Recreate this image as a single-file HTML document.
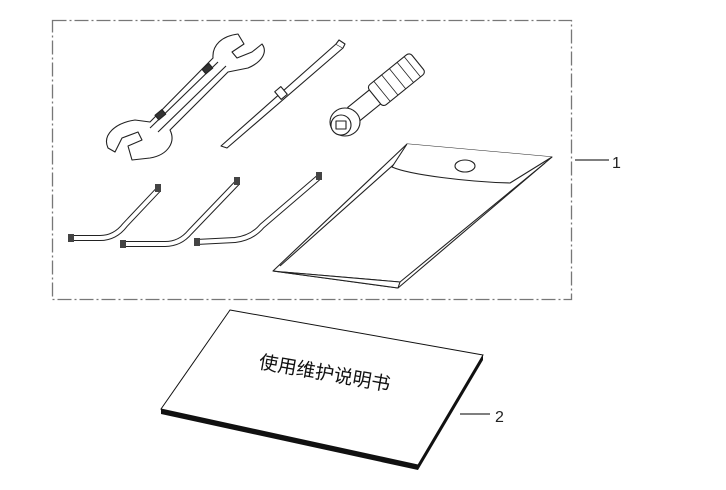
<!DOCTYPE html>
<html><head><meta charset="utf-8"><style>
html,body{margin:0;padding:0;background:#fff;width:726px;height:490px;overflow:hidden}
svg{display:block}
text{font-family:"Liberation Sans",sans-serif}
</style></head><body>
<svg width="726" height="490" viewBox="0 0 726 490" xmlns="http://www.w3.org/2000/svg">
<rect x="52.5" y="20.5" width="519" height="279" fill="none" stroke="#777" stroke-width="1.3" stroke-dasharray="14,3,2,3"/>
<line x1="575" y1="160" x2="609" y2="160" stroke="#333" stroke-width="1.2"/>
<text x="612" y="168" font-size="16" fill="#222">1</text>
<line x1="460" y1="414" x2="490" y2="414" stroke="#333" stroke-width="1.2"/>
<text x="495" y="422" font-size="16" fill="#222">2</text>

<g fill="#fff" stroke="#222" stroke-width="1.1" stroke-linejoin="round">
<path d="M108,148 C102,135 115,123 135,120 L150,122 L213,58 C212,45 222,36 238,34 L244,44 L232,52 L237,58 L252,52 L262,44 C268,52 262,62 248,68 L228,72 L170,130 C176,142 168,155 150,158 L132,160 L128,146 L142,140 L138,132 L122,138 L115,152 Z"/>
<path d="M150,128 L218,62" fill="none"/>
<path d="M158,132 L226,66" fill="none"/>
<rect x="203" y="66" width="9" height="6" fill="#333" transform="rotate(-40 207 69)"/>
<rect x="156" y="112" width="9" height="6" fill="#333" transform="rotate(-40 160 115)"/>
<path d="M336,44 L343,48 L227,148 L221,146 Z"/>
<path d="M336,44 L339,40 L345,44 L343,48" />
<rect x="277" y="88" width="8" height="10" transform="rotate(-40 281 93)"/>
<g transform="rotate(-39 365 105)">
<rect x="350" y="96" width="30" height="18"/>
</g>
<g transform="rotate(-39 396 80)">
<rect x="369" y="67" width="55" height="26" rx="4"/>
<path d="M378,67 L378,93 M388,67 L388,93 M398,67 L398,93 M408,67 L408,93 M417,67 L417,93" fill="none" stroke-width="0.8"/>
</g>
<ellipse cx="345" cy="122" rx="15" ry="14"/>
<ellipse cx="341" cy="125" rx="10" ry="10"/>
<path d="M336,121 L346,121 L346,129 L336,129 Z" fill="none"/>
<path d="M273,271 L407,144 L552,157 L398,288 Z"/>
<path d="M280,266 L410,150 L548,160" fill="none"/>
<path d="M283,272 L400,282 L545,163" fill="none"/>
<path d="M407,144 L392,167 C410,175 470,182 510,183 L552,157" />
<ellipse cx="465" cy="166" rx="10" ry="6"/>
<path d="M273,271 L398,288 L400,282 L283,272 Z" fill="#fff"/>
</g>
<g fill="none" stroke="#222" stroke-width="6" stroke-linecap="butt" stroke-linejoin="round">
<path d="M70,238 L100,238 Q115,238 125,225 L158,190"/>
<path d="M122,244 L165,244 Q180,244 190,232 L237,183"/>
<path d="M196,242 L235,240 Q252,238 262,226 L318,178"/>
</g>
<g fill="none" stroke="#fff" stroke-width="4" stroke-linecap="butt" stroke-linejoin="round">
<path d="M70,238 L100,238 Q115,238 125,225 L158,190"/>
<path d="M122,244 L165,244 Q180,244 190,232 L237,183"/>
<path d="M196,242 L235,240 Q252,238 262,226 L318,178"/>
</g>
<g fill="#444">
<rect x="68" y="234" width="6" height="8"/><rect x="155" y="184" width="6" height="8"/>
<rect x="120" y="240" width="6" height="8"/><rect x="234" y="177" width="6" height="8"/>
<rect x="194" y="238" width="6" height="8"/><rect x="316" y="172" width="6" height="8"/>
</g>
<path d="M161,409 L418,465 L418,470 L161,414 Z" fill="#111"/>
<path d="M418,465 L483,355 L483,360 L418,470 Z" fill="#111"/>
<path d="M230,310 L483,355 L418,465 L161,409 Z" fill="#fff" stroke="#111" stroke-width="1"/>
<text x="258" y="368" font-size="19" fill="#111" transform="rotate(10 258 368)" font-family="'Liberation Sans','Noto Sans CJK SC',sans-serif">使用维护说明书</text>
</svg>
</body></html>
